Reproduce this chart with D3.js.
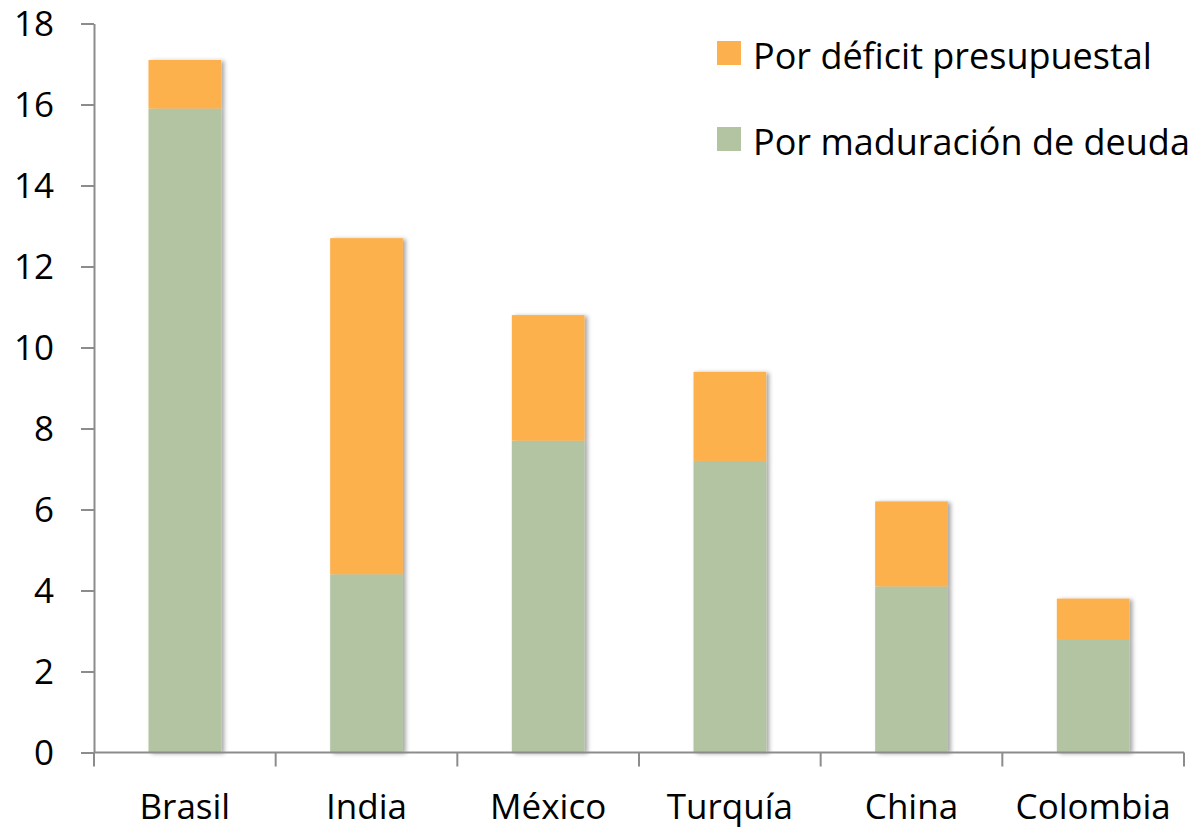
<!DOCTYPE html>
<html>
<head>
<meta charset="utf-8">
<script src="https://cdn.jsdelivr.net/npm/d3@7"></script>
<style>
  body { margin: 0; background: #fff; }
  text { font-family: "Open Sans", sans-serif; fill: #000; }
</style>
</head>
<body>
<script>
// stacked bars, Excel style

let w = 1202;
let h = 829;

let paises = ['Brasil', 'India', 'México', 'Turquía', 'China', 'Colombia'];
let maduracion = [15.9, 4.4, 7.7, 7.2, 4.1, 2.8];
let deficit = [1.2, 8.3, 3.1, 2.2, 2.1, 1.0];
let seriesNames = ['Por maduración de deuda', 'Por déficit presupuestal'];
let yTicks = [0, 2, 4, 6, 8, 10, 12, 14, 16, 18];

let colores = { 'Por maduración de deuda': '#b3c4a2', 'Por déficit presupuestal': '#fdb14e' };

let margin = { top: 23.5, right: 18, bottom: 76.5, left: 94 };

let svg = d3.select('body').append('svg')
    .attr('width', w)
    .attr('height', h);

let defs = svg.append('defs');
let f = defs.append('filter').attr('id', 'sombra')
    .attr('x', '-10%').attr('y', '-10%').attr('width', '130%').attr('height', '120%');
f.append('feDropShadow')
    .attr('dx', 3).attr('dy', 1)
    .attr('stdDeviation', 2)
    .attr('flood-color', '#000')
    .attr('flood-opacity', 0.35);

let tabla = paises.map((p, i) => ({
    pais: p,
    'Por maduración de deuda': maduracion[i],
    'Por déficit presupuestal': deficit[i]
}));

let stack = d3.stack().keys(seriesNames);
let capas = stack(tabla);

let x = d3.scaleBand()
    .domain(paises)
    .range([margin.left, w - margin.right])
    .paddingInner(0.6)
    .paddingOuter(0.3);

let y = d3.scaleLinear()
    .domain([0, 18])
    .range([h - margin.bottom, margin.top]);

// bars with shadow, one group per country
let barras = svg.append('g');
paises.forEach((p, i) => {
    let g = barras.append('g').attr('filter', 'url(#sombra)');
    capas.forEach(c => {
        let d = c[i];
        g.append('rect')
            .attr('x', x(p))
            .attr('width', x.bandwidth())
            .attr('y', y(d[1]))
            .attr('height', y(d[0]) - y(d[1]))
            .attr('fill', colores[c.key]);
    });
});

// y axis
let yAxis = svg.append('g')
    .attr('transform', `translate(${margin.left},0)`)
    .call(d3.axisLeft(y).tickValues(yTicks).tickSize(13).tickPadding(27).tickSizeOuter(0));
yAxis.selectAll('line, path').attr('stroke', '#8c8c8c').attr('stroke-width', 2);
yAxis.selectAll('text')
    .attr('font-size', '35px')
    .attr('dy', '0.34em')
    .attr('font-family', '"Open Sans", sans-serif');

// x axis, ticks between categories
let xAxis = svg.append('g')
    .attr('transform', `translate(0,${h - margin.bottom})`);
xAxis.append('line')
    .attr('x1', margin.left).attr('x2', w - margin.right)
    .attr('stroke', '#8c8c8c').attr('stroke-width', 2);
let step = x.step();
let bordes = paises.map(p => x(p) - step * 0.3).concat([w - margin.right]);
xAxis.selectAll('.tk')
    .data(bordes)
    .enter()
    .append('line')
    .attr('x1', d => d).attr('x2', d => d)
    .attr('y1', 0).attr('y2', 14)
    .attr('stroke', '#8c8c8c').attr('stroke-width', 2);
xAxis.selectAll('.lbl')
    .data(paises)
    .enter()
    .append('text')
    .attr('x', d => x(d) + x.bandwidth() / 2)
    .attr('y', 66)
    .attr('text-anchor', 'middle')
    .attr('font-size', '35px')
    .text(d => d);

// legend
let leyenda = [seriesNames[1], seriesNames[0]];
let lg = svg.append('g').attr('transform', 'translate(717,41)');
leyenda.forEach((s, i) => {
    lg.append('rect')
        .attr('x', 0).attr('y', i * 86)
        .attr('width', 24).attr('height', 24)
        .attr('fill', colores[s]);
    lg.append('text')
        .attr('x', 36).attr('y', i * 86 + 28)
        .attr('font-size', '36px')
        .text(s);
});
</script>
</body>
</html>
